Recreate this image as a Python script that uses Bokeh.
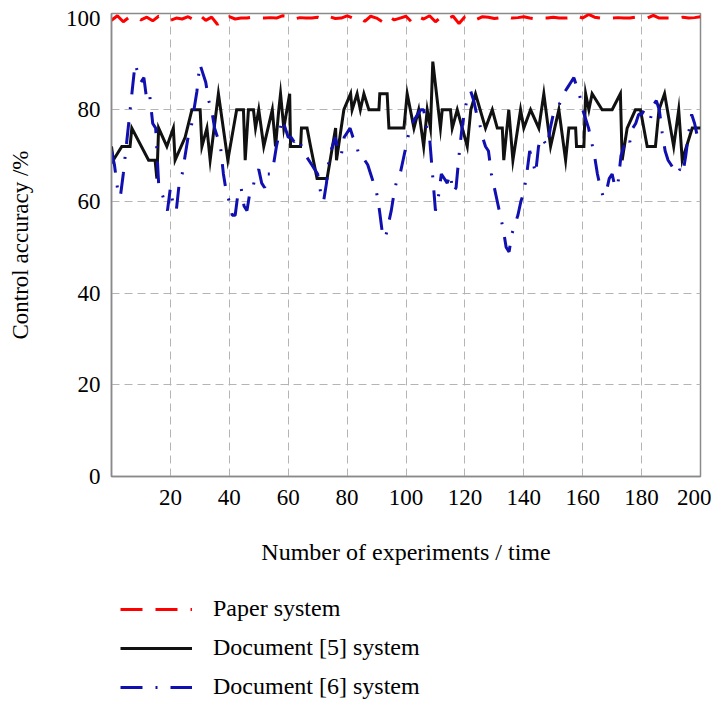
from bokeh.plotting import figure
from bokeh.models import Range1d, FixedTicker, Legend, LegendItem
from bokeh.layouts import column
from bokeh.embed import file_html
from bokeh.resources import INLINE

# ---- data ----
x_ticks = [20, 40, 60, 80, 100, 120, 140, 160, 180, 200]
y_ticks = [0, 20, 40, 60, 80, 100]

red_x = list(range(0, 201, 2))
red_y = [99.5, 100.5, 99.2, 100.2, 100.3, 99.6, 100.2, 99.4, 100.4, 100.0,
         99.5, 100.0, 99.8, 100.3, 99.6, 100.6, 99.5, 100.2, 98.6, 100.0,
         100.3, 99.8, 100.0, 100.0, 100.2, 100.0, 100.0, 100.1, 100.0, 100.5,
         100.4, 99.8, 100.1, 100.0, 100.0, 100.2, 99.8, 100.3, 99.9, 100.0,
         100.5, 100.0, 100.3, 99.3, 100.4, 100.0, 99.2, 100.4, 99.6, 100.0,
         100.4, 99.1, 100.3, 99.8, 100.5, 99.2, 100.3, 99.9, 100.4, 98.8,
         100.3, 100.5, 99.7, 100.3, 100.2, 99.9, 100.1, 100.4, 100.0, 100.1,
         100.3, 100.0, 99.8, 100.0, 100.0, 100.2, 100.0, 100.0, 100.1, 100.5,
         100.0, 100.8, 100.2, 100.0, 100.0, 100.0, 100.1, 100.0, 100.0, 100.2,
         100.0, 100.0, 100.6, 100.0, 100.0, 100.0, 100.0, 100.2, 100.0, 100.1,
         100.3]

black_x = [0, 0.6, 3.5, 6.3, 6.9, 12.6, 14.8, 15.4, 16, 18.8, 21, 21.6, 25, 27.3,
           30.1, 30.7, 32.4, 33.5, 36.3, 39.5, 42.5, 44.8, 45.4, 46.5, 48.2, 48.9,
           50, 51.7, 54.6, 55.7, 56.8, 57.4, 58.5, 60.5, 60.8, 64.2, 64.5, 66.4,
           67.6, 69.8, 73.2, 76.1, 76.4, 78.9, 81.2, 81.7, 83.4, 84.5, 85.7, 87.4,
           90.8, 91.1, 93.6, 94.2, 96.4, 99.3, 100.4, 102.7, 104.3, 106, 107.2,
           108.3, 109.1, 111.7, 112.3, 115.1, 115.7, 117.4, 120.8, 122, 123.6,
           127, 129.3, 131, 132.7, 133.2, 134.9, 136.3, 138.9, 140, 142.3, 145.1,
           146.8, 149.1, 151.9, 154.2, 155.3, 157.6, 157.9, 160.4, 161, 162.1,
           163.2, 166.6, 170, 172.8, 173.4, 175.1, 177.9, 179.6, 181.9, 184.7,
           185.9, 187.8, 190.9, 192.6, 193.8, 197.2, 200]
black_y = [72, 69, 72, 72, 76, 69, 69, 65, 76, 72, 76, 69, 74, 80,
           80, 72, 76, 69, 83.5, 69, 80, 80, 69, 80, 80, 76,
           80, 72, 80, 72, 80, 83.5, 76, 83.5, 72, 72, 76, 76,
           72, 65, 65, 76, 69, 80, 83.5, 80, 83.5, 80, 83.5, 80,
           80, 83.5, 83.5, 76, 76, 76, 83.5, 76, 80, 72, 80,
           76, 90.5, 76, 80, 80, 76, 80, 72, 80, 83.5,
           76, 80, 76, 76, 69, 80, 69, 80, 76, 80, 76,
           83.5, 72, 80, 69, 76, 76, 72, 72, 83.5, 80,
           83.5, 80, 80, 83.5, 69, 76, 80, 80, 72, 72,
           80, 83.5, 72, 80, 69, 76, 76]

blue_x = list(range(0, 201))
blue_y = [71, 68, 63, 61, 66, 72, 78, 84, 90, 88, 86,
          87, 82, 83, 77, 76, 64, 62, 60, 58, 63,
          59, 58, 64, 66, 70, 74, 76, 80, 84, 90,
          88, 86, 82, 80, 76, 74, 72, 66, 62, 60,
          57, 57, 62, 63, 59, 58, 62, 63, 66, 67,
          64, 63, 66, 66, 68, 72, 75, 78, 76, 74,
          74, 73, 74, 73, 71, 70, 69, 68, 67, 66,
          62, 60, 64, 70, 72, 74, 71, 70, 74, 75,
          76, 74, 73, 70, 70, 69, 68, 66, 64, 62,
          58, 53, 52, 55, 58, 62, 65, 66, 69, 72,
          75, 77, 78, 79, 80, 80, 76, 74, 66, 58,
          61, 66, 65, 64, 66, 62, 63, 70, 76, 80,
          83, 84, 82, 79, 77, 74, 72, 71, 66, 63,
          60, 57, 54, 50, 49, 53, 55, 57, 60, 62,
          66, 71, 69, 66, 72, 74, 73, 72, 76, 79,
          80, 81, 83, 84, 85, 86, 87, 85, 83, 80,
          78, 76, 73, 70, 66, 63, 61, 62, 65, 66,
          63, 64, 70, 72, 74, 73, 76, 77, 79, 79,
          80, 79, 78, 81, 82, 80, 75, 71, 69, 68,
          67, 66, 67, 66, 70, 75, 79, 77, 74, 73]

labels = ["Paper system", "Document [5] system", "Document [6] system"]

FONT = "Liberation Serif"
RED, BLACK, BLUE = "#ff0000", "#111111", "#1010b0"
RED_DASH, BLUE_DASH = "22 13", "22 13 2 13"

p = figure(width=711, height=570, output_backend="svg", toolbar_location=None,
           x_range=Range1d(0, 200), y_range=Range1d(0, 101),
           min_border_left=111, min_border_right=11, min_border_top=13,
           min_border_bottom=94)
p.background_fill_color = "white"
p.border_fill_color = "white"
p.outline_line_color = "#8a8a8a"
p.outline_line_width = 1.5

p.line(red_x, red_y, line_color=RED, line_width=3, line_dash=RED_DASH)
p.line(black_x, black_y, line_color=BLACK, line_width=3, line_join="miter")
p.line(blue_x, blue_y, line_color=BLUE, line_width=3, line_dash=BLUE_DASH)

for ax in (p.xaxis[0], p.yaxis[0]):
    ax.major_tick_out = 0
    ax.major_tick_in = 0
    ax.minor_tick_out = 0
    ax.minor_tick_in = 0
    ax.axis_line_color = "#8a8a8a"
    ax.axis_line_width = 1.5
    ax.major_label_text_font = FONT
    ax.major_label_text_font_size = "23px"
    ax.major_label_text_color = "black"
    ax.axis_label_text_font = FONT
    ax.axis_label_text_font_style = "normal"
    ax.axis_label_text_color = "black"

p.xaxis.axis_label_text_font_size = "24px"
p.yaxis.axis_label_text_font_size = "23px"
p.xaxis.ticker = FixedTicker(ticks=x_ticks)
p.yaxis.ticker = FixedTicker(ticks=y_ticks)
p.xaxis.axis_label = "Number of experiments / time"
p.yaxis.axis_label = "Control accuracy /%"
p.xaxis.major_label_standoff = 13
p.xaxis.axis_label_standoff = 31
p.yaxis.major_label_standoff = 11
p.yaxis.axis_label_standoff = 30

p.xgrid.ticker = FixedTicker(ticks=x_ticks[:-1])
p.ygrid.ticker = FixedTicker(ticks=y_ticks[1:-1])
for g in (p.xgrid[0], p.ygrid[0]):
    g.grid_line_color = "#b4b4b4"
    g.grid_line_width = 1
    g.grid_line_dash = "8 5"

# ---- legend figure below (its series sit outside its 0..1 ranges, so only the legend shows) ----
q = figure(width=711, height=130, output_backend="svg", toolbar_location=None,
           x_range=Range1d(0, 1), y_range=Range1d(0, 1),
           x_axis_location=None, y_axis_location=None,
           min_border_left=0, min_border_right=0, min_border_top=0,
           min_border_bottom=0)
q.grid.visible = False
q.outline_line_color = None
q.background_fill_color = "white"
q.border_fill_color = "white"
l_red = q.line(red_x, red_y, line_color=RED, line_width=3, line_dash=RED_DASH)
l_black = q.line(black_x, black_y, line_color=BLACK, line_width=3)
l_blue = q.line(blue_x, blue_y, line_color=BLUE, line_width=3, line_dash=BLUE_DASH)

legend = Legend(items=[LegendItem(label=labels[0], renderers=[l_red]),
                       LegendItem(label=labels[1], renderers=[l_black]),
                       LegendItem(label=labels[2], renderers=[l_blue])],
                location=(9, 0), orientation="vertical",
                glyph_width=72, glyph_height=20, label_height=20,
                label_standoff=21, spacing=12, padding=0, margin=0,
                border_line_color=None, background_fill_alpha=0,
                label_text_font=FONT, label_text_font_size="24px",
                label_text_color="black")
q.add_layout(legend, "center")

open("out.html", "w").write(file_html(column(p, q, spacing=0), INLINE))
